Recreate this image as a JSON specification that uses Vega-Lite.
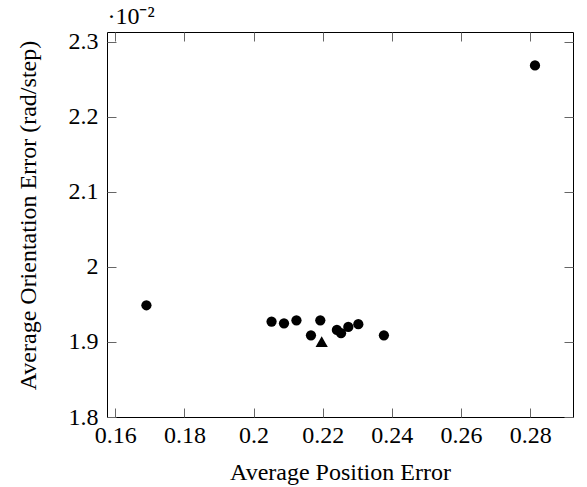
{
  "$schema": "https://vega.github.io/schema/vega-lite/v6.json",
  "width": 466,
  "height": 385,
  "autosize": {"type": "none"},
  "padding": {"left": 107, "top": 32, "right": 14, "bottom": 70},
  "background": "white",
  "config": {
    "view": {"stroke": "black", "strokeWidth": 1},
    "font": "Liberation Serif",
    "axis": {
      "domain": false,
      "grid": false,
      "ticks": true,
      "tickSize": -9,
      "tickColor": "#666666",
      "tickWidth": 1,
      "labelFont": "Liberation Serif",
      "labelFontSize": 24,
      "labelColor": "black",
      "titleFont": "Liberation Serif",
      "titleFontSize": 24,
      "titleFontWeight": "normal",
      "titleColor": "black"
    }
  },
  "data": {
    "values": [
      {"pos": 0.1690, "orient": 1.9489, "method": "other"},
      {"pos": 0.2052, "orient": 1.9272, "method": "other"},
      {"pos": 0.2088, "orient": 1.9249, "method": "other"},
      {"pos": 0.2124, "orient": 1.9289, "method": "other"},
      {"pos": 0.2193, "orient": 1.9289, "method": "other"},
      {"pos": 0.2166, "orient": 1.9089, "method": "other"},
      {"pos": 0.2241, "orient": 1.9160, "method": "other"},
      {"pos": 0.2253, "orient": 1.9116, "method": "other"},
      {"pos": 0.2274, "orient": 1.9200, "method": "other"},
      {"pos": 0.2303, "orient": 1.9236, "method": "other"},
      {"pos": 0.2377, "orient": 1.9089, "method": "other"},
      {"pos": 0.2814, "orient": 2.2684, "method": "other"},
      {"pos": 0.2197, "orient": 1.9005, "method": "ours"}
    ]
  },
  "layer": [
    {
      "mark": {"type": "point", "filled": true, "opacity": 1, "color": "black", "strokeWidth": 0},
      "encoding": {
        "x": {
          "field": "pos",
          "type": "quantitative",
          "scale": {"domain": [0.1576, 0.2924], "nice": false, "zero": false},
          "axis": {
            "orient": "bottom",
            "values": [0.16, 0.18, 0.2, 0.22, 0.24, 0.26, 0.28],
            "format": "~g",
            "labelPadding": 15,
            "labelFlush": false,
            "title": "Average Position Error",
            "titleBaseline": "alphabetic",
            "titleY": 62
          }
        },
        "y": {
          "field": "orient",
          "type": "quantitative",
          "scale": {"domain": [1.8, 2.313], "nice": false, "zero": false},
          "axis": {
            "orient": "left",
            "values": [1.8, 1.9, 2, 2.1, 2.2, 2.3],
            "format": "~g",
            "labelPadding": 18,
            "labelFlush": false,
            "title": "Average Orientation Error (rad/step)",
            "titleAngle": 270,
            "titleAlign": "center",
            "titleBaseline": "alphabetic",
            "titleX": -72,
            "titleY": 183
          }
        },
        "shape": {
          "field": "method",
          "type": "nominal",
          "scale": {"domain": ["other", "ours"], "range": ["circle", "triangle-up"]},
          "legend": null
        },
        "size": {
          "field": "method",
          "type": "nominal",
          "scale": {"domain": ["other", "ours"], "range": [105, 150]},
          "legend": null
        }
      }
    },
    {
      "mark": {"type": "point", "opacity": 0},
      "encoding": {
        "x": {
          "field": "pos",
          "type": "quantitative",
          "scale": {"domain": [0.1576, 0.2924], "nice": false, "zero": false},
          "axis": {
            "orient": "top",
            "values": [0.16, 0.18, 0.2, 0.22, 0.24, 0.26, 0.28],
            "labels": false,
            "title": "·10⁻²",
            "titleAlign": "left",
            "titleAnchor": "start",
            "titleBaseline": "alphabetic",
            "titleX": 0,
            "titleY": -9
          }
        },
        "y": {
          "field": "orient",
          "type": "quantitative",
          "scale": {"domain": [1.8, 2.313], "nice": false, "zero": false},
          "axis": {
            "orient": "right",
            "values": [1.8, 1.9, 2, 2.1, 2.2, 2.3],
            "labels": false,
            "title": null
          }
        }
      }
    }
  ],
  "resolve": {
    "scale": {"x": "independent", "y": "independent"},
    "axis": {"x": "independent", "y": "independent"}
  }
}
